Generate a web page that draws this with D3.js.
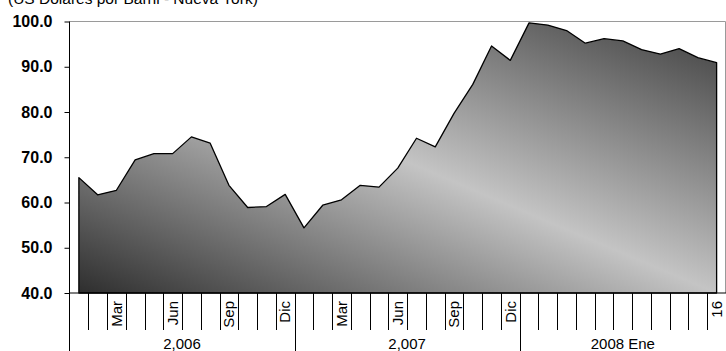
<!DOCTYPE html>
<html>
<head>
  <title>Petroleo WTI</title>
  <script src="https://d3js.org/d3.v7.min.js"></script>
</head>
<body style="margin:0; background:#fff;">
  <style>
    text {
      font-family: Arial, "Liberation Sans", sans-serif;
      fill: #000;
    }
    .y-label {
      font-size: 16px;
      font-weight: bold;
    }
    .cat-label, .group-label {
      font-size: 15px;
    }
  </style>

  <svg id="chart"></svg>

  <script>
    // category labels (one per point), blank = no label
    var catLabels = ["", "", "Mar", "", "", "Jun", "", "", "Sep", "", "", "Dic",
                     "", "", "Mar", "", "", "Jun", "", "", "Sep", "", "", "Dic",
                     "", "", "", "", "", "", "", "", "", "", "16"];
    var groups = ["2,006", "2,007", "2008 Ene"];
    var groupSizes = [12, 12, 11];
    var values = [65.5, 61.7, 62.7, 69.4, 70.8, 70.8, 74.5, 73.1, 63.8, 58.9, 59.1, 61.8,
                  54.4, 59.4, 60.6, 63.8, 63.4, 67.6, 74.2, 72.3, 79.7, 86.1, 94.6, 91.4,
                  99.7, 99.2, 98.0, 95.2, 96.2, 95.7, 93.8, 92.8, 94.0, 92.0, 90.9];
    var yTicks = [40, 50, 60, 70, 80, 90, 100];
    var title = "(US Dolares por Barril - Nueva York)";

    var width = 726;
    var height = 351;
    var plotLeft = 69.5, plotRight = 726, plotTop = 21.5, plotBottom = 293;

    var svg = d3.select("#chart")
      .attr("width", width)
      .attr("height", height);

    var xScale = d3.scaleBand()
      .domain(d3.range(values.length))
      .range([plotLeft, plotRight])
      .padding(0);

    var yScale = d3.scaleLinear()
      .domain([40, 100])
      .range([plotBottom, plotTop]);

    var bw = xScale.bandwidth();

    // gradient fill
    var grad = svg.append("defs").append("linearGradient")
      .attr("id", "fillGrad")
      .attr("x1", 0).attr("y1", 1)
      .attr("x2", 1).attr("y2", 0);
    grad.append("stop").attr("offset", "0%").attr("stop-color", "#2e2e2e");
    grad.append("stop").attr("offset", "50%").attr("stop-color", "#c4c4c4");
    grad.append("stop").attr("offset", "100%").attr("stop-color", "#3e3e3e");

    // plot area border (top + right)
    svg.append("path")
      .attr("d", "M" + plotLeft + "," + plotTop + "H" + (plotRight - 0.5) + "V" + plotBottom)
      .attr("fill", "none")
      .attr("stroke", "#9a9a9a")
      .attr("stroke-width", 1);

    // area
    var area = d3.area()
      .x((d, i) => xScale(i) + bw / 2)
      .y0(yScale(40))
      .y1(d => yScale(d));

    svg.append("path")
      .datum(values)
      .attr("d", area)
      .attr("fill", "url(#fillGrad)")
      .attr("stroke", "#000")
      .attr("stroke-width", 1.3)
      .attr("stroke-linejoin", "round");

    // y axis
    var yAxis = svg.append("g")
      .attr("transform", "translate(" + plotLeft + ",0)")
      .call(d3.axisLeft(yScale).tickValues(yTicks).tickSize(5).tickPadding(12).tickFormat(d3.format(".1f")));
    yAxis.select(".domain").remove();
    yAxis.selectAll("line").attr("stroke", "#000");
    yAxis.selectAll("text")
      .attr("class", "y-label");
    yAxis.attr("font-family", null).attr("font-size", null);

    svg.append("line")
      .attr("x1", plotLeft).attr("x2", plotLeft)
      .attr("y1", plotTop).attr("y2", height)
      .attr("stroke", "#000");

    // x axis line
    svg.append("line")
      .attr("x1", plotLeft).attr("x2", plotRight)
      .attr("y1", plotBottom).attr("y2", plotBottom)
      .attr("stroke", "#000");

    // category ticks between bands
    var groupEnds = [];
    var acc = 0;
    groupSizes.forEach(function(n) { acc += n; groupEnds.push(acc); });

    svg.selectAll(".cat-tick")
      .data(d3.range(1, values.length))
      .enter()
      .append("line")
      .attr("class", "cat-tick")
      .attr("x1", d => Math.round(xScale(d)) + 0.5)
      .attr("x2", d => Math.round(xScale(d)) + 0.5)
      .attr("y1", plotBottom)
      .attr("y2", d => groupEnds.indexOf(d) >= 0 ? height : 330)
      .attr("stroke", "#000");

    // category labels (rotated)
    svg.selectAll(".cat-label")
      .data(catLabels)
      .enter()
      .append("text")
      .attr("class", "cat-label")
      .attr("transform", (d, i) => "translate(" + (xScale(i) + bw / 2) + ",301) rotate(-90)")
      .attr("text-anchor", "end")
      .attr("dy", "0.35em")
      .text(d => d);

    // group labels
    var start = 0;
    groups.forEach(function(g, k) {
      var x0 = xScale(start);
      var x1 = start + groupSizes[k] < values.length ? xScale(start + groupSizes[k]) : plotRight;
      svg.append("text")
        .attr("class", "group-label")
        .attr("x", (x0 + x1) / 2)
        .attr("y", 349)
        .attr("text-anchor", "middle")
        .text(g);
      start += groupSizes[k];
    });

    // title (clipped at top)
    svg.append("text")
      .attr("x", 8)
      .attr("y", 4)
      .style("font-size", "15.5px")
      .text(title);
  </script>
</body>
</html>
